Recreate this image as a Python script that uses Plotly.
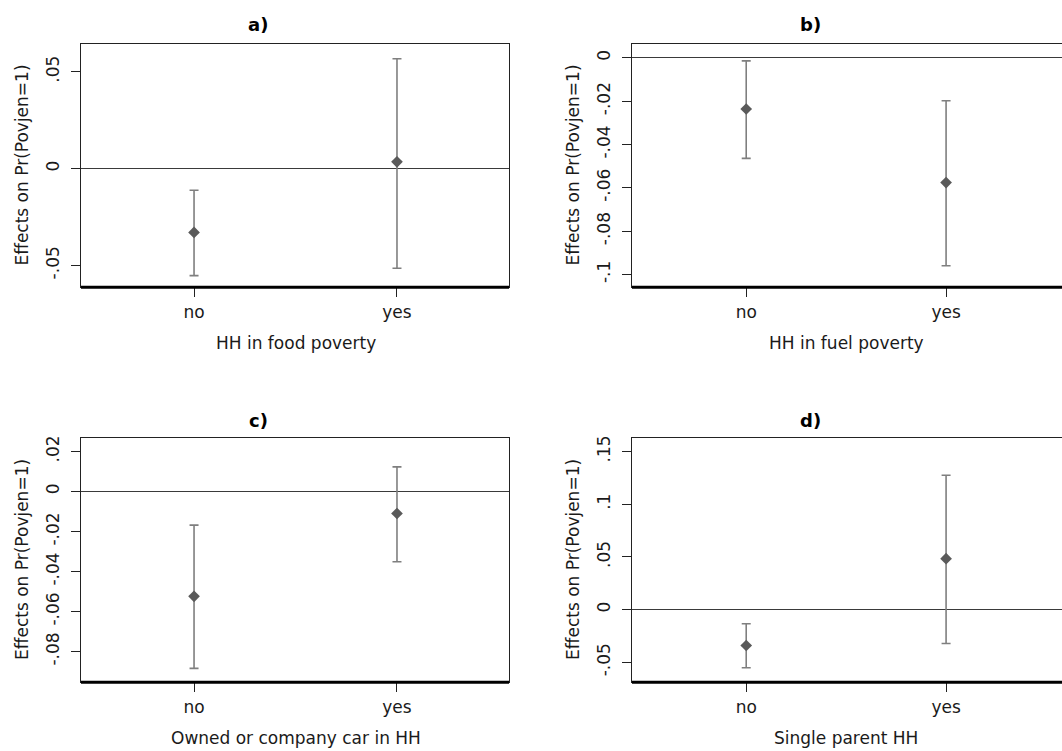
import plotly.graph_objects as go

# ---------------- data ----------------
categories = ["no", "yes"]
cat_pos = [0, 1]

panel_letters = ["a)", "b)", "c)", "d)"]
x_titles = ["HH in food poverty", "HH in fuel poverty",
            "Owned or company car in HH", "Single parent HH"]
y_title = "Effects on Pr(Povjen=1)"

# panel a: HH in food poverty
est_a = [-0.033, 0.0035]
lo_a = [-0.0553, -0.0515]
hi_a = [-0.0112, 0.0567]
yticks_a = [-0.05, 0, 0.05]
ylabels_a = ["-.05", "0", ".05"]

# panel b: HH in fuel poverty
est_b = [-0.0236, -0.0576]
lo_b = [-0.0464, -0.0960]
hi_b = [-0.0014, -0.0198]
yticks_b = [-0.1, -0.08, -0.06, -0.04, -0.02, 0]
ylabels_b = ["-.1", "-.08", "-.06", "-.04", "-.02", "0"]

# panel c: Owned or company car in HH
est_c = [-0.0524, -0.0110]
lo_c = [-0.0884, -0.0351]
hi_c = [-0.0168, 0.0123]
yticks_c = [-0.08, -0.06, -0.04, -0.02, 0, 0.02]
ylabels_c = ["-.08", "-.06", "-.04", "-.02", "0", ".02"]

# panel d: Single parent HH
est_d = [-0.0341, 0.0483]
lo_d = [-0.0552, -0.0322]
hi_d = [-0.0135, 0.1275]
yticks_d = [-0.05, 0, 0.05, 0.1, 0.15]
ylabels_d = ["-.05", "0", ".05", ".1", ".15"]

# ---------------- layout geometry ----------------
W, H = 1062, 751
FONT = "DejaVu Sans"
TXT = "#1a1a1a"
FS = 17

panels = [
    dict(est=est_a, lo=lo_a, hi=hi_a, yt=yticks_a, yl=ylabels_a,
         xpx=(81, 509), ypx=(42, 286), yr=(-0.0613, 0.0644), xr=(-0.557, 1.552),
         right_border=True, title_x=258, title_y=23, ytitle_x=22, xt_y=342),
    dict(est=est_b, lo=lo_b, hi=hi_b, yt=yticks_b, yl=ylabels_b,
         xpx=(632, 1062), ypx=(42, 286), yr=(-0.1059, 0.00645), xr=(-0.5715, 1.58),
         right_border=False, title_x=810, title_y=23, ytitle_x=573, xt_y=342),
    dict(est=est_c, lo=lo_c, hi=hi_c, yt=yticks_c, yl=ylabels_c,
         xpx=(81, 509), ypx=(437, 682), yr=(-0.0953, 0.0268), xr=(-0.557, 1.552),
         right_border=True, title_x=258, title_y=420, ytitle_x=22, xt_y=738),
    dict(est=est_d, lo=lo_d, hi=hi_d, yt=yticks_d, yl=ylabels_d,
         xpx=(632, 1062), ypx=(437, 682), yr=(-0.0689, 0.163), xr=(-0.5715, 1.58),
         right_border=False, title_x=810, title_y=420, ytitle_x=573, xt_y=738),
]

fig = go.Figure()
layout = dict(
    width=W, height=H,
    margin=dict(l=0, r=0, t=0, b=0),
    paper_bgcolor="white", plot_bgcolor="white",
    showlegend=False,
    font=dict(family=FONT, size=FS, color=TXT),
)
shapes = []
annotations = []

for i, p in enumerate(panels):
    n = "" if i == 0 else str(i + 1)
    xa, ya = "x" + n, "y" + n
    fig.add_trace(go.Scatter(
        x=cat_pos, y=p["est"], xaxis=xa, yaxis=ya,
        mode="markers",
        marker=dict(symbol="diamond", size=9, color="#5a5a5a"),
        error_y=dict(type="data", symmetric=False,
                     array=[h - e for h, e in zip(p["hi"], p["est"])],
                     arrayminus=[e - l for e, l in zip(p["est"], p["lo"])],
                     color="#7f7f7f", thickness=1.6, width=4.5),
        hoverinfo="skip",
    ))
    x0, x1 = p["xpx"]
    y0, y1 = p["ypx"]
    layout["xaxis" + n] = dict(
        domain=[x0 / W, x1 / W], anchor=ya, range=list(p["xr"]),
        tickmode="array", tickvals=cat_pos, ticktext=categories,
        ticks="outside", ticklen=9, tickwidth=1, tickcolor="#222",
        ticklabelstandoff=0,
        showgrid=False, zeroline=False,
        showline=True, linecolor="#222", linewidth=1, mirror=True,
        tickfont=dict(family=FONT, size=FS, color=TXT),
    )
    layout["yaxis" + n] = dict(
        domain=[1 - y1 / H, 1 - y0 / H], anchor=xa, range=list(p["yr"]),
        tickmode="array", tickvals=p["yt"], ticktext=p["yl"], tickangle=-90,
        ticks="outside", ticklen=9, tickwidth=1, tickcolor="#222",
        ticklabelstandoff=5,
        showgrid=False,
        zeroline=True, zerolinecolor="#3a3a3a", zerolinewidth=1.2,
        showline=True, linecolor="#222", linewidth=1,
        mirror=True if p["right_border"] else False,
        tickfont=dict(family=FONT, size=FS, color=TXT),
    )
    # thick bottom frame line
    shapes.append(dict(type="line", xref=xa + " domain", yref=ya + " domain",
                       x0=0, x1=1, y0=0, y1=0,
                       line=dict(color="#000", width=3), layer="above"))
    # panel title
    annotations.append(dict(text="<b>" + panel_letters[i] + "</b>",
                            xref="paper", yref="paper",
                            x=p["title_x"] / W, y=1 - p["title_y"] / H,
                            xanchor="center", yanchor="middle", showarrow=False,
                            font=dict(family=FONT, size=18, color="#000")))
    # y axis title
    annotations.append(dict(text=y_title, textangle=-90,
                            xref="paper", yref="paper",
                            x=p["ytitle_x"] / W, y=1 - (y0 + y1) / 2 / H,
                            xanchor="center", yanchor="middle", showarrow=False,
                            font=dict(family=FONT, size=FS, color=TXT)))
    # x axis title
    xc = (cat_pos[0] + cat_pos[1]) / 2
    annotations.append(dict(text=x_titles[i],
                            xref=xa, yref="paper",
                            x=xc, y=1 - p["xt_y"] / H,
                            xanchor="center", yanchor="middle", showarrow=False,
                            font=dict(family=FONT, size=FS, color=TXT)))

layout["shapes"] = shapes
layout["annotations"] = annotations
fig.update_layout(**layout)

fig.write_html("out.html", config={"displayModeBar": False},
               post_script="document.body.style.margin='0';")
